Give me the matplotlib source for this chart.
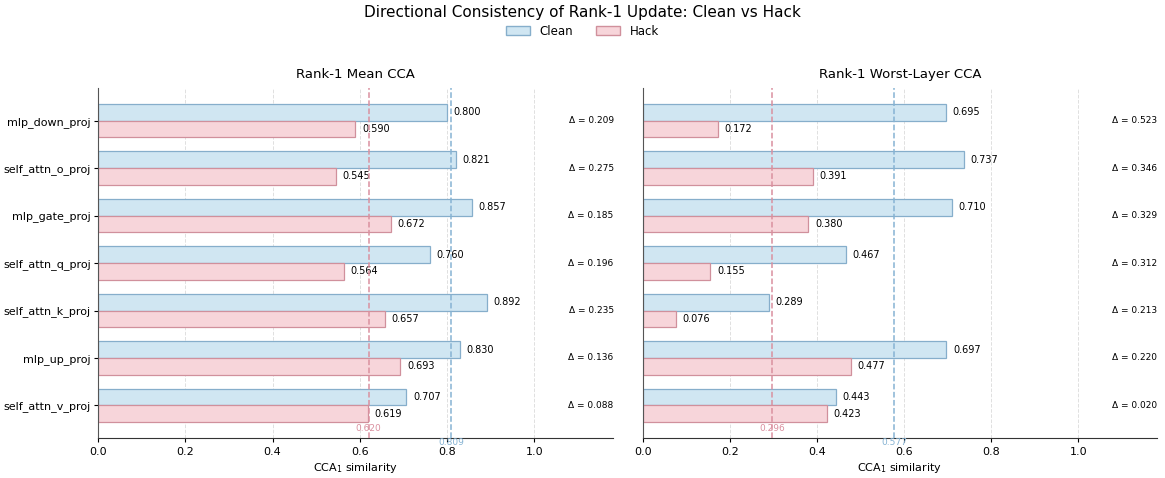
import numpy as np
import matplotlib
matplotlib.use("Agg")
import matplotlib.pyplot as plt
from matplotlib.patches import Patch

modules = ["mlp_down_proj", "self_attn_o_proj", "mlp_gate_proj", "self_attn_q_proj",
           "self_attn_k_proj", "mlp_up_proj", "self_attn_v_proj"]

# Rank-1 mean CCA
mean_clean = [0.800, 0.821, 0.857, 0.760, 0.892, 0.830, 0.707]
mean_hack = [0.590, 0.545, 0.672, 0.564, 0.657, 0.693, 0.619]
mean_delta = [0.209, 0.275, 0.185, 0.196, 0.235, 0.136, 0.088]
mean_avg = [0.809, 0.620]  # clean, hack

# Rank-1 worst-layer CCA
worst_clean = [0.695, 0.737, 0.710, 0.467, 0.289, 0.697, 0.443]
worst_hack = [0.172, 0.391, 0.380, 0.155, 0.076, 0.477, 0.423]
worst_delta = [0.523, 0.346, 0.329, 0.312, 0.213, 0.220, 0.020]
worst_avg = [0.577, 0.296]

c_fill, c_edge, c_line = "#d0e6f2", "#86aecb", "#86b3d3"
h_fill, h_edge, h_line = "#f7d5da", "#d0909c", "#da909f"

fig = plt.figure(figsize=(11.65, 4.78), dpi=100)
ax1 = fig.add_axes([0.0841, 0.0837, 0.442, 0.732])
ax2 = fig.add_axes([0.5519, 0.0837, 0.441, 0.732])


def panel(ax, clean, hack, delta, avg, title):
    y = np.arange(len(modules))
    h = 0.35
    ax.barh(y - h / 2, clean, height=h, color=c_fill, edgecolor=c_edge, linewidth=0.9, zorder=2)
    ax.barh(y + h / 2, hack, height=h, color=h_fill, edgecolor=h_edge, linewidth=0.9, zorder=2)
    for i in range(len(modules)):
        ax.text(clean[i] + 0.015, y[i] - h / 2, f"{clean[i]:.3f}", va="center", ha="left", fontsize=7)
        ax.text(hack[i] + 0.015, y[i] + h / 2, f"{hack[i]:.3f}", va="center", ha="left", fontsize=7)
        ax.text(1.13, y[i], f"Δ = {delta[i]:.3f}", va="center", ha="center", fontsize=6.5)
    ax.axvline(avg[0], color=c_line, linestyle="--", linewidth=1.1, zorder=3)
    ax.axvline(avg[1], color=h_line, linestyle="--", linewidth=1.1, zorder=3)
    tr = ax.get_xaxis_transform()
    ax.text(avg[0], -0.014, f"{avg[0]:.3f}", transform=tr, ha="center", va="center",
            fontsize=6.5, color=c_line)
    ax.text(avg[1], 0.028, f"{avg[1]:.3f}", transform=tr, ha="center", va="center",
            fontsize=6.5, color=h_line)
    ax.set_yticks(y)
    ax.set_yticklabels(modules, fontsize=8)
    ax.invert_yaxis()
    ax.set_xlim(0, 1.18)
    ax.set_xticks([0, 0.2, 0.4, 0.6, 0.8, 1.0])
    ax.set_xticklabels(["0.0", "0.2", "0.4", "0.6", "0.8", "1.0"], fontsize=8)
    ax.tick_params(width=0.8, length=3)
    ax.tick_params(axis="y", pad=2)
    ax.grid(axis="x", linestyle="--", color="#e0e0e0", linewidth=0.7, zorder=0)
    ax.set_axisbelow(True)
    ax.spines["top"].set_visible(False)
    ax.spines["right"].set_visible(False)
    ax.spines["left"].set_color("#555555")
    ax.spines["bottom"].set_color("#333333")
    ax.set_xlabel("CCA$_1$ similarity", fontsize=8, labelpad=3)
    ax.set_title(title, fontsize=9.5, pad=7)


panel(ax1, mean_clean, mean_hack, mean_delta, mean_avg, "Rank-1 Mean CCA")
panel(ax2, worst_clean, worst_hack, worst_delta, worst_avg, "Rank-1 Worst-Layer CCA")
ax2.set_yticklabels([])
ax2.tick_params(axis="y", length=0)

fig.suptitle("Directional Consistency of Rank-1 Update: Clean vs Hack", fontsize=11, y=0.99)
handles = [Patch(facecolor=c_fill, edgecolor=c_edge, label="Clean"),
           Patch(facecolor=h_fill, edgecolor=h_edge, label="Hack")]
fig.legend(handles=handles, loc="center", bbox_to_anchor=(0.5, 0.935), ncol=2,
           frameon=False, fontsize=8.5)

fig.savefig("out.png", dpi=100)
